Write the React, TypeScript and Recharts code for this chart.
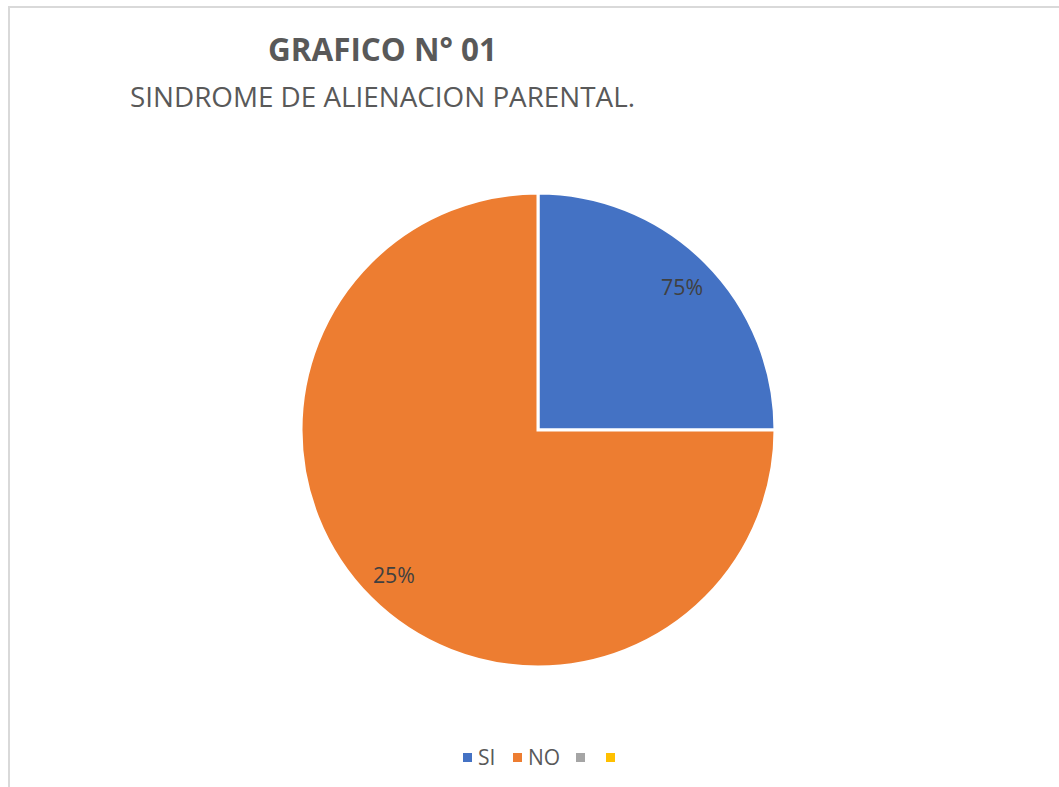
import React from "react";
import { PieChart, Pie, Cell } from "recharts";

const categories = ["SI", "NO", "", ""];
const values = [25, 75, 0, 0];
const labelTexts = ["75%", "25%", "", ""];
const colors = ["#4472C4", "#ED7D31", "#A5A5A5", "#FFC000"];

const titleText = "GRAFICO N° 01";
const subtitleText = "SINDROME DE ALIENACION PARENTAL.";

const data = categories.map((name, i) => ({ name, value: values[i], label: labelTexts[i] }));

const RAD = Math.PI / 180;

const renderLabel = (props: any) => {
  const { cx, cy, midAngle, outerRadius, index, value } = props;
  if (!value) return null;
  const r = outerRadius * 0.86;
  const x = cx + r * Math.cos(-midAngle * RAD);
  const y = cy + r * Math.sin(-midAngle * RAD);
  return (
    <text
      x={x}
      y={y}
      fill="#404040"
      fontSize={22}
      fontFamily="'Open Sans', sans-serif"
      textAnchor="middle"
      dominantBaseline="central"
      textLength={42}
      lengthAdjust="spacingAndGlyphs"
    >
      {labelTexts[index]}
    </text>
  );
};

const legendX = [463, 513, 576, 606];

const Legend = () => (
  <div style={{ position: "absolute", left: 0, top: 0 }}>
    {categories.map((c, i) => (
      <div
        key={i}
        style={{
          position: "absolute",
          left: legendX[i],
          top: 744,
          height: 26,
          display: "flex",
          alignItems: "center",
          whiteSpace: "nowrap",
          fontFamily: "'Open Sans', sans-serif",
          fontSize: 21,
          color: "#595959",
        }}
      >
        <span style={{ width: 9, height: 9, background: colors[i], display: "inline-block", marginRight: 6 }} />
        <span>{c}</span>
      </div>
    ))}
  </div>
);

export default function App() {
  return (
    <div style={{ position: "absolute", left: 0, top: 0, width: 1059, height: 787, background: "#fff", overflow: "hidden" }}>
      <div
        style={{
          position: "absolute",
          left: 8,
          top: 6,
          width: 1060,
          height: 790,
          borderLeft: "2px solid #d9d9d9",
          borderTop: "2px solid #d9d9d9",
          boxSizing: "border-box",
        }}
      />
      <svg width={1059} height={130} style={{ position: "absolute", left: 0, top: 0 }}>
        <text
          x={268}
          y={61}
          fontFamily="'Open Sans', sans-serif"
          fontWeight="bold"
          fontSize={32}
          fill="#595959"
          textLength={229}
          lengthAdjust="spacingAndGlyphs"
        >
          {titleText}
        </text>
        <text
          x={130}
          y={107}
          fontFamily="'Open Sans', sans-serif"
          fontSize={27}
          fill="#595959"
          textLength={505}
          lengthAdjust="spacingAndGlyphs"
        >
          {subtitleText}
        </text>
      </svg>
      <div style={{ position: "absolute", left: 0, top: 0 }}>
        <PieChart width={1059} height={787} margin={{ top: 0, right: 0, bottom: 0, left: 0 }}>
          <Pie
            data={data}
            dataKey="value"
            nameKey="name"
            cx={538}
            cy={430}
            outerRadius={237}
            startAngle={90}
            endAngle={-270}
            stroke="#ffffff"
            strokeWidth={3}
            label={renderLabel}
            labelLine={false}
            isAnimationActive={false}
          >
            {data.map((d, i) => (
              <Cell key={i} fill={colors[i]} />
            ))}
          </Pie>
        </PieChart>
      </div>
      <Legend />
    </div>
  );
}
